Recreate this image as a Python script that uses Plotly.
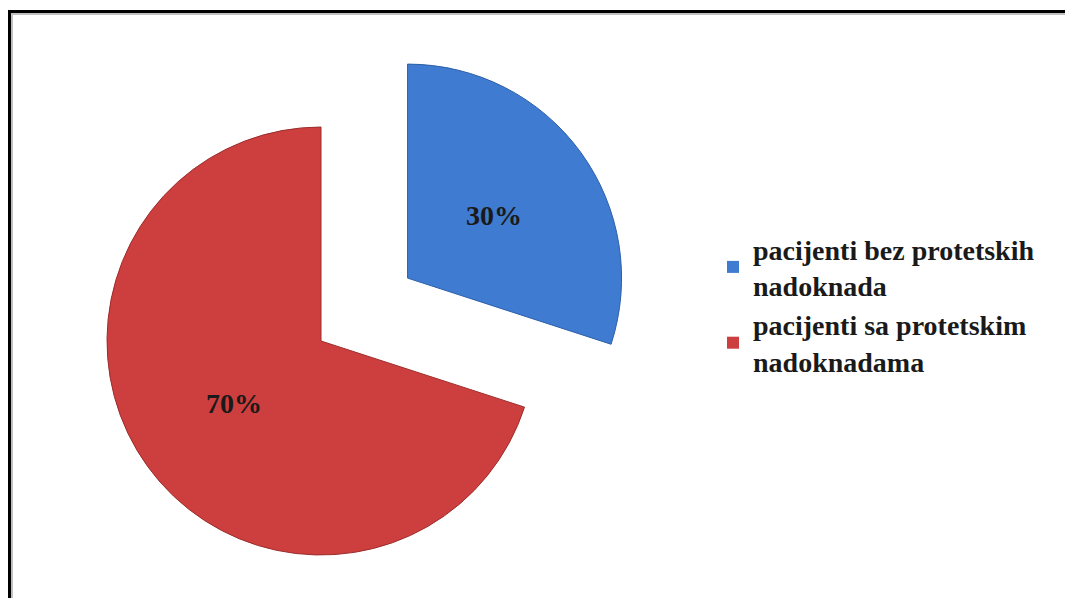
import math
import plotly.graph_objects as go

# ---- data ----
labels = ["pacijenti bez protetskih<br>nadoknada", "pacijenti sa protetskim<br>nadoknadama"]
values = [30, 70]
colors = ["#3f7bd0", "#cd3f3e"]
line_colors = ["#2d5fa8", "#9c2c2b"]
pull_blue = 0.5

# ---- layout geometry (pixels) ----
W, H = 1065, 598
R = 214
cx_red, cy_red = 321, 341

total = sum(values)
fracs = [v / total for v in values]
start = [sum(fracs[:i]) for i in range(len(fracs))]
mids = [360 * (s + f / 2) for s, f in zip(start, fracs)]

cx_blue = cx_red + pull_blue * R * math.sin(math.radians(mids[0]))
cy_blue = cy_red - pull_blue * R * math.cos(math.radians(mids[0]))
centers = [(cx_blue, cy_blue), (cx_red, cy_red)]


def domain(cx, cy, r):
    return dict(x=[(cx - r) / W, (cx + r) / W], y=[(H - cy - r) / H, (H - cy + r) / H])


pct_text = [f"{f * 100:.0f}%" for f in fracs]
transparent = "rgba(0,0,0,0)"
serif = "Liberation Serif"

fig = go.Figure()

# legend-only pie, hidden behind the red pie
fig.add_trace(go.Pie(
    labels=labels, values=values, sort=False, direction="clockwise", rotation=0,
    marker=dict(colors=colors, line=dict(width=0)), textinfo="none",
    domain=domain(cx_red, cy_red, 0.5), showlegend=True, hoverinfo="skip",
))

# one visible pie per slice (the other slice transparent), so the pulled
# slice can keep the full radius
for i in range(len(values)):
    cols = [colors[j] if j == i else transparent for j in range(len(values))]
    lcols = [line_colors[j] if j == i else transparent for j in range(len(values))]
    cx, cy = centers[i]
    fig.add_trace(go.Pie(
        labels=labels, values=values, sort=False, direction="clockwise", rotation=0,
        marker=dict(colors=cols, line=dict(color=lcols, width=1)),
        textinfo="none", domain=domain(cx, cy, R), showlegend=False,
        hovertemplate="%{label}: %{percent}<extra></extra>",
    ))

annotations = []
for i in range(len(values)):
    cx, cy = centers[i]
    a = math.radians(mids[i])
    px = cx + 0.5 * R * math.sin(a)
    py = cy - 0.5 * R * math.cos(a)
    annotations.append(dict(
        x=px / W, y=1 - py / H, xref="paper", yref="paper", showarrow=False,
        text=pct_text[i], xanchor="center", yanchor="middle",
        font=dict(family=serif, size=28, color="#1a1a1a", weight="bold"),
    ))

fig.update_layout(
    width=W, height=H,
    margin=dict(l=0, r=0, t=0, b=0),
    paper_bgcolor="white", plot_bgcolor="white",
    annotations=annotations,
    legend=dict(
        x=713 / W, y=1 - 224 / H, xanchor="left", yanchor="top",
        font=dict(family=serif, size=28, color="#1a1a1a", weight="bold"),
        bgcolor="rgba(0,0,0,0)", itemclick=False, itemdoubleclick=False,
    ),
    shapes=[
        dict(type="rect", xref="paper", yref="paper",
             x0=12 / W, x1=1.05, y0=-0.05, y1=1 - 14 / H,
             line=dict(color="#c0c0c0", width=2), layer="below"),
        dict(type="rect", xref="paper", yref="paper",
             x0=9.5 / W, x1=1.05, y0=-0.05, y1=1 - 11.5 / H,
             line=dict(color="black", width=3), layer="below"),
    ],
)

fig.write_html(
    "out.html",
    config={"displayModeBar": False},
    post_script="document.body.style.margin='0';document.body.style.overflow='hidden';",
)
